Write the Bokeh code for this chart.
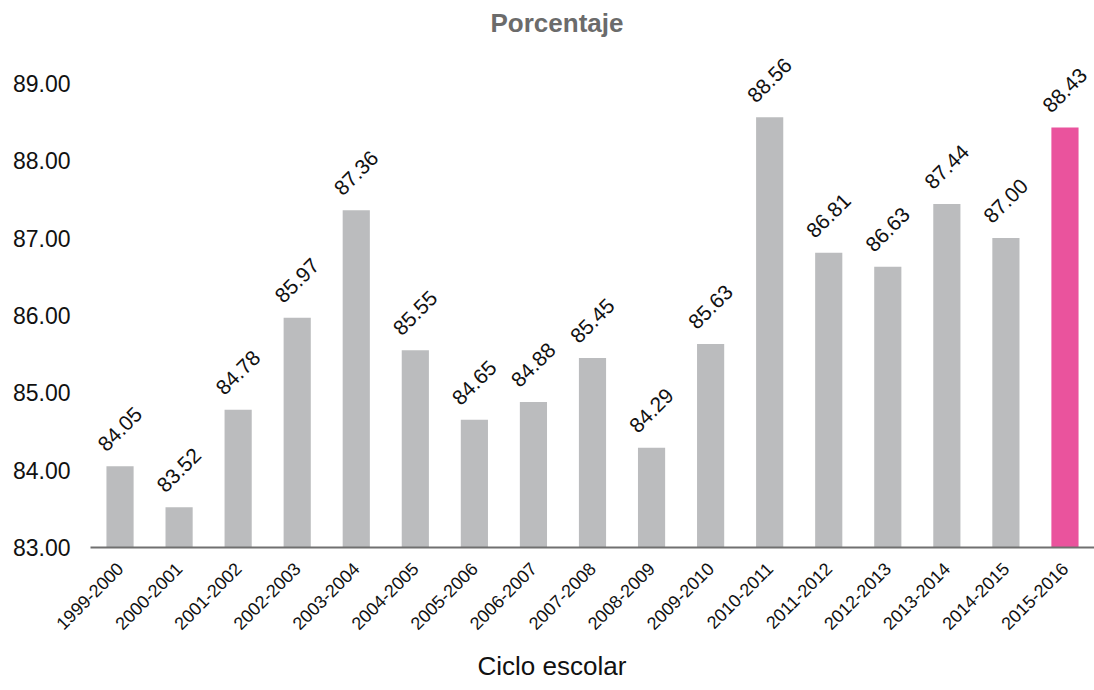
import math
from bokeh.plotting import figure
from bokeh.models import ColumnDataSource, FixedTicker, PrintfTickFormatter, Title, Range1d
from bokeh.core.properties import value
from bokeh.embed import file_html
from bokeh.resources import INLINE

ciclos = ["1999-2000", "2000-2001", "2001-2002", "2002-2003", "2003-2004", "2004-2005",
          "2005-2006", "2006-2007", "2007-2008", "2008-2009", "2009-2010", "2010-2011",
          "2011-2012", "2012-2013", "2013-2014", "2014-2015", "2015-2016"]
porcentaje = [84.05, 83.52, 84.78, 85.97, 87.36, 85.55, 84.65, 84.88, 85.45, 84.29,
              85.63, 88.56, 86.81, 86.63, 87.44, 87.00, 88.43]
y_ticks = [83, 84, 85, 86, 87, 88, 89]

GREY = "#BBBCBE"
PINK = "#EA539D"
colores = [GREY] * (len(ciclos) - 1) + [PINK]
etiquetas = [f"{v:.2f}" for v in porcentaje]

FONT = "Liberation Sans"

src = ColumnDataSource(dict(x=ciclos, top=porcentaje, color=colores, label=etiquetas))

p = figure(x_range=ciclos, y_range=Range1d(83, 89.476), width=1094, height=690,
           output_backend="svg", toolbar_location=None, title=None,
           min_border_left=90, min_border_right=0, min_border_top=45, min_border_bottom=142)
p.outline_line_color = None
p.xgrid.grid_line_color = None
p.ygrid.grid_line_color = None
p.background_fill_color = "white"
p.border_fill_color = "white"

p.vbar(x="x", top="top", bottom=83, width=0.46, color="color", line_color=None, source=src)

p.text(x="x", y="top", text="label", source=src, angle=math.pi / 4, y_offset=-37,
       text_align="center", text_baseline="middle", text_font=value(FONT),
       text_font_size="21px", text_color="#111111")

# y axis
p.yaxis.ticker = FixedTicker(ticks=y_ticks)
p.yaxis.formatter = PrintfTickFormatter(format="%.2f")
p.yaxis.axis_line_color = None
p.yaxis.major_tick_line_color = None
p.yaxis.minor_tick_line_color = None
p.yaxis.major_tick_out = 0
p.yaxis.major_label_standoff = 20
p.yaxis.major_label_text_font = FONT
p.yaxis.major_label_text_font_size = "23px"
p.yaxis.major_label_text_color = "#111111"

# x axis
p.xaxis.axis_line_color = "#707070"
p.xaxis.axis_line_width = 2
p.xaxis.major_tick_line_color = None
p.xaxis.major_tick_out = 0
p.xaxis.major_label_orientation = math.pi / 4
p.xaxis.major_label_standoff = 18
p.xaxis.major_label_text_font = FONT
p.xaxis.major_label_text_font_size = "18px"
p.xaxis.major_label_text_color = "#111111"

titulo = Title(text="Porcentaje", align="left", offset=400, vertical_align="top",
               standoff=14, text_font=FONT, text_font_size="26px",
               text_font_style="bold", text_color="#6B6B6B")
p.add_layout(titulo, "above")

eje_x = Title(text="Ciclo escolar", align="left", offset=387, vertical_align="bottom",
              standoff=20, text_font=FONT, text_font_size="26px",
              text_font_style="normal", text_color="#111111")
p.add_layout(eje_x, "below")

open("out.html", "w").write(file_html(p, INLINE))
